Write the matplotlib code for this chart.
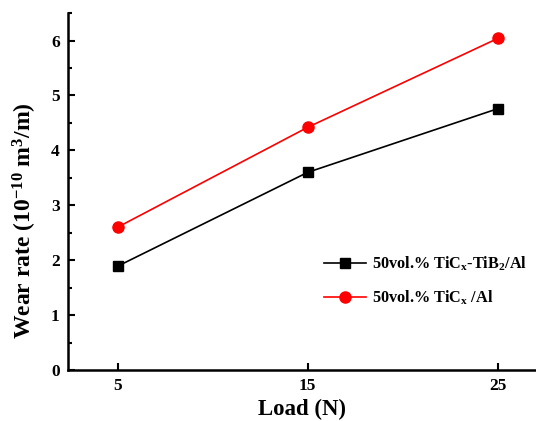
import matplotlib
matplotlib.use("Agg")
import matplotlib.pyplot as plt
from matplotlib.ticker import MultipleLocator

plt.rcParams["font.family"] = "Liberation Serif"
plt.rcParams["font.weight"] = "bold"
plt.rcParams["mathtext.fontset"] = "custom"
plt.rcParams["mathtext.rm"] = "Liberation Serif:bold"
plt.rcParams["mathtext.it"] = "Liberation Serif:bold"
plt.rcParams["mathtext.bf"] = "Liberation Serif:bold"

# data
load = [5, 15, 25]
tic_tib2 = [1.89, 3.60, 4.76]
tic_only = [2.60, 4.42, 6.04]
labels = ["50vol.% TiC$_\\mathrm{x}$-TiB$_2$/Al", "50vol.% TiC$_\\mathrm{x}$ /Al"]

fig = plt.figure(figsize=(5.36, 4.21), dpi=100)
ax = fig.add_axes([0.127, 0.121, 0.873, 0.848])

ax.plot(load, tic_tib2, color="black", marker="s", markersize=7, lw=1.2, label=labels[0])
ax.plot(load, tic_only, color="red", marker="o", markersize=8, lw=1.2, label=labels[1])

ax.set_xlim(2.4, 27)
ax.set_ylim(0, 6.5)
ax.set_xticks(load)
ax.yaxis.set_major_locator(MultipleLocator(1))
ax.yaxis.set_minor_locator(MultipleLocator(0.5))
ax.tick_params(direction="in", which="both", labelsize=12.5, width=1.5)
ax.tick_params(which="major", length=5, pad=6)
ax.tick_params(which="minor", length=3)
for side in ["top", "right"]:
    ax.spines[side].set_visible(False)
for side in ["left", "bottom"]:
    ax.spines[side].set_linewidth(1.8)

ax.set_xlabel("Load (N)", fontsize=16.5, fontweight="bold", labelpad=3)
ax.set_ylabel("Wear rate (10$^{-10}$ m$^3$/m)", fontsize=17, fontweight="bold")
ax.yaxis.set_label_coords(-0.062, 0.42)

ax.legend(loc="center left", bbox_to_anchor=(0.515, 0.25), frameon=False,
          prop={"size": 11.7, "weight": "bold"}, handlelength=2.6, handletextpad=0.4,
          labelspacing=0.95)

fig.savefig("out.png", dpi=100)
